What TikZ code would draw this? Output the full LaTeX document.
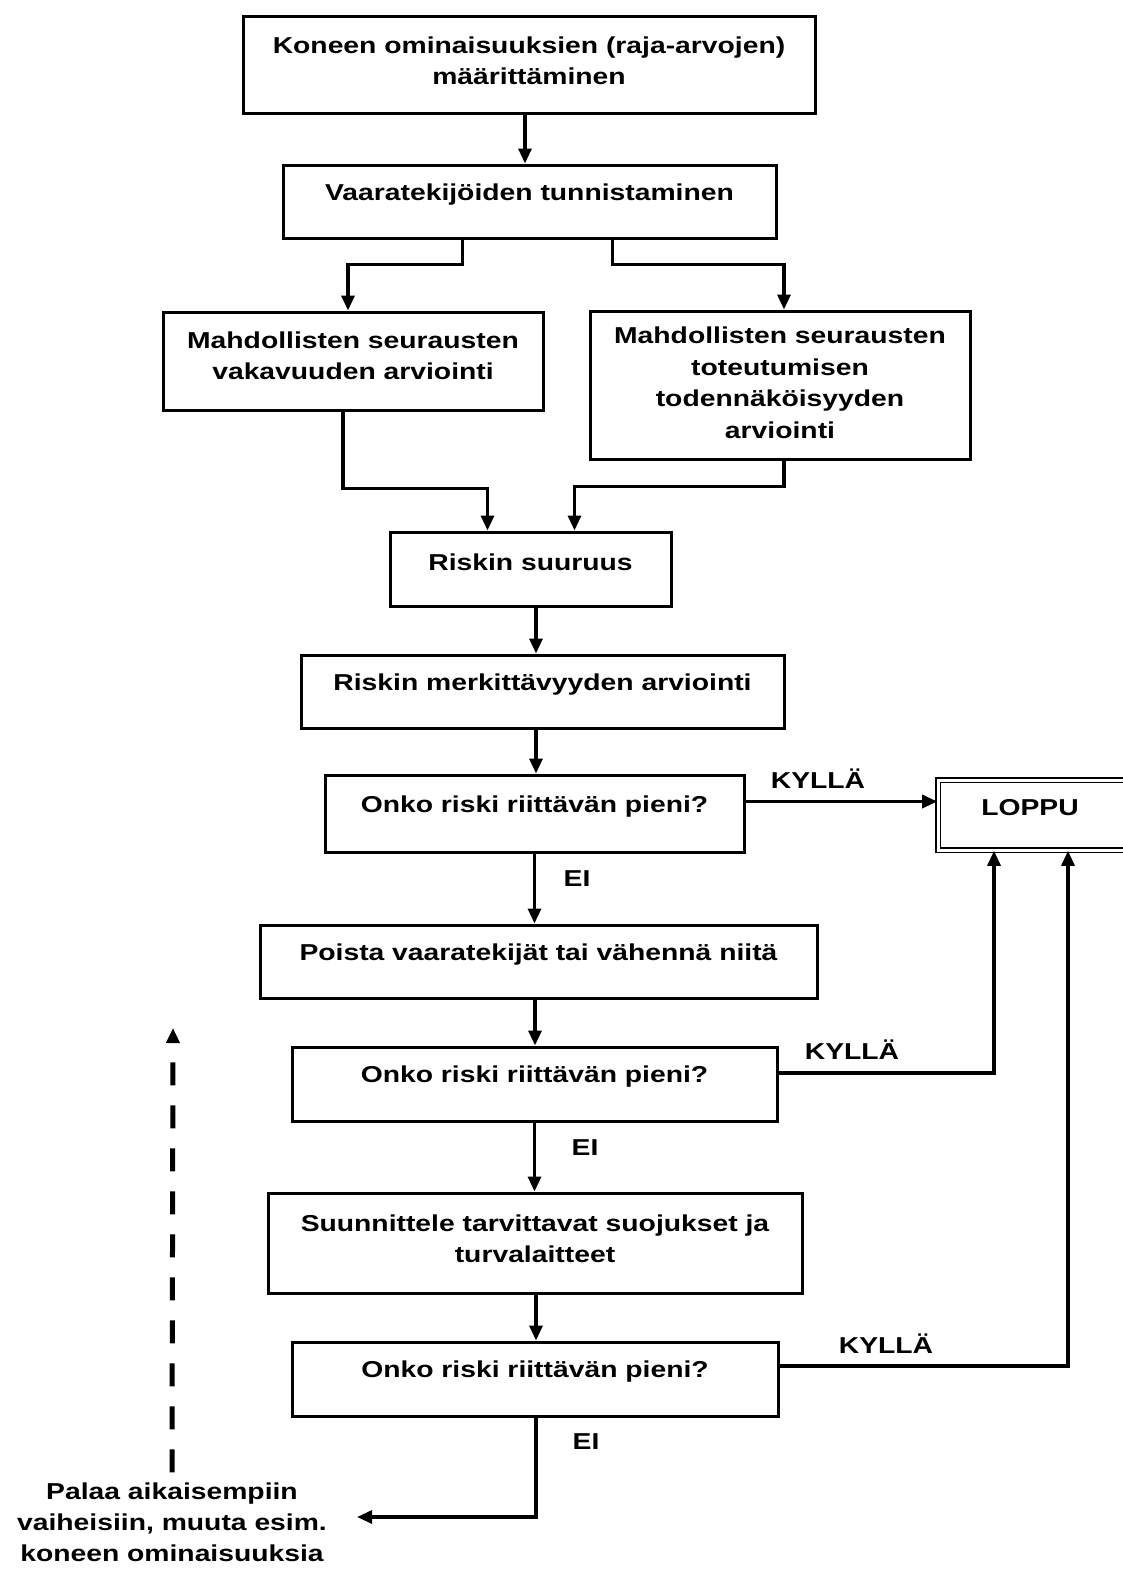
\documentclass[tikz,border=0pt]{standalone}
\usepackage{fontspec}
\setmainfont{Liberation Sans}[FakeStretch=1.23]
\usetikzlibrary{arrows.meta,positioning,calc}

\begin{document}
\begin{tikzpicture}[x=1pt, y=-1pt,
    box/.style={rectangle, draw=black, line width=3pt, inner sep=0pt},
    txt/.style={align=center, font=\bfseries\fontsize{23}{31.5}\selectfont, yshift=7pt},
    free/.style={align=center, font=\bfseries\fontsize{23}{31}\selectfont, inner sep=0pt},
    tag/.style={font=\bfseries\fontsize{23}{28}\selectfont},
    flow/.style={-{Triangle[length=15pt,width=13pt]}, line width=3.2pt},
    dashflow/.style={-{Triangle[length=15pt,width=13pt]}, line width=5pt, dash pattern=on 23pt off 20pt}
]
\useasboundingbox (0,0) rectangle (1122,1571);

% Boxes
\node[box, minimum width=572, minimum height=96, label={[txt, yshift=-3pt]center:Koneen ominaisuuksien (raja-arvojen)\\ määrittäminen}] (spec) at (529,65) {};
\node[box, minimum width=493, minimum height=73, label={[txt]center:Vaaratekijöiden tunnistaminen}] (hazard) at (529.5,201.5) {};
\node[box, minimum width=380, minimum height=98, label={[txt, yshift=-2pt]center:Mahdollisten seurausten\\ vakavuuden arviointi}] (severity) at (353,361) {};
\node[box, minimum width=380, minimum height=148, label={[txt, yshift=-5pt]center:Mahdollisten seurausten\\ toteutumisen\\ todennäköisyyden\\ arviointi}] (prob) at (780,385) {};
\node[box, minimum width=281, minimum height=74, label={[txt]center:Riskin suuruus}] (size) at (530.5,569) {};
\node[box, minimum width=483, minimum height=73, label={[txt]center:Riskin merkittävyyden arviointi}] (signif) at (542.5,691.5) {};
\node[box, minimum width=419, minimum height=77, label={[txt]center:Onko riski riittävän pieni?}] (checka) at (534.5,813.5) {};
\node[box, line width=1.6pt, double, double distance=3pt, minimum width=200, minimum height=70, label={[txt, xshift=-8pt]center:LOPPU}] (loppu) at (1038,815) {};
\node[box, minimum width=557, minimum height=73, label={[txt]center:Poista vaaratekijät tai vähennä niitä}] (remove) at (538.5,961.5) {};
\node[box, minimum width=485, minimum height=74, label={[txt]center:Onko riski riittävän pieni?}] (checkb) at (534.5,1084) {};
\node[box, minimum width=534, minimum height=100, label={[txt, yshift=-3pt]center:Suunnittele tarvittavat suojukset ja\\ turvalaitteet}] (guard) at (535,1243) {};
\node[box, minimum width=486, minimum height=74, label={[txt]center:Onko riski riittävän pieni?}] (checkc) at (535,1379) {};
\node[free] (back) at (172,1522) {Palaa aikaisempiin\\ vaiheisiin, muuta esim.\\ koneen ominaisuuksia};
\coordinate (uptip) at (173,1028);

% Connectors
\draw[flow] ([xshift=-4pt]spec.south) -- ([xshift=-4pt]spec.south |- hazard.north);
\draw[flow] ([xshift=-67pt]hazard.south) -- ++(0,25) -| ([xshift=-5pt]severity.north);
\draw[flow] ([xshift=83pt]hazard.south) -- ++(0,25) -| ([xshift=4pt]prob.north);
\draw[flow] ([xshift=-10pt]severity.south) -- ++(0,77) -| ([xshift=-43pt]size.north);
\draw[flow] ([xshift=4pt]prob.south) -- ++(0,26) -| ([xshift=44pt]size.north);
\draw[flow] ([xshift=5.5pt]size.south) -- ([xshift=5.5pt]size.south |- signif.north);
\draw[flow] ([xshift=-6.5pt]signif.south) -- ([xshift=-6.5pt]signif.south |- checka.north);
\draw[flow] ([yshift=12pt]checka.east) -- ([yshift=12pt]checka.east -| loppu.west);
\draw[flow] (checka.south) -- (checka.south |- remove.north);
\draw[flow] ([xshift=-3.5pt]remove.south) -- ([xshift=-3.5pt]remove.south |- checkb.north);
\draw[flow] ([yshift=11pt]checkb.east) -| ([xshift=-44pt]loppu.south);
\draw[flow] (checkb.south) -- (checkb.south |- guard.north);
\draw[flow] ([xshift=1pt]guard.south) -- ([xshift=1pt]guard.south |- checkc.north);
\draw[flow] ([yshift=13pt]checkc.east) -| ([xshift=30pt]loppu.south);
\draw[flow] ([xshift=1pt]checkc.south) |- ([xshift=30pt,yshift=5pt]back.east);
\draw[dashflow] ([yshift=10pt]back.north) -- (uptip);

% Answers
\node[tag] (yesa) at (818,779) {KYLLÄ};
\node[tag] (noa) at (577,879) {EI};
\node[tag] (yesb) at (852,1050) {KYLLÄ};
\node[tag] (nob) at (585,1148) {EI};
\node[tag] (yesc) at (886,1344) {KYLLÄ};
\node[tag] (noc) at (586,1442) {EI};

\end{tikzpicture}
\end{document}
